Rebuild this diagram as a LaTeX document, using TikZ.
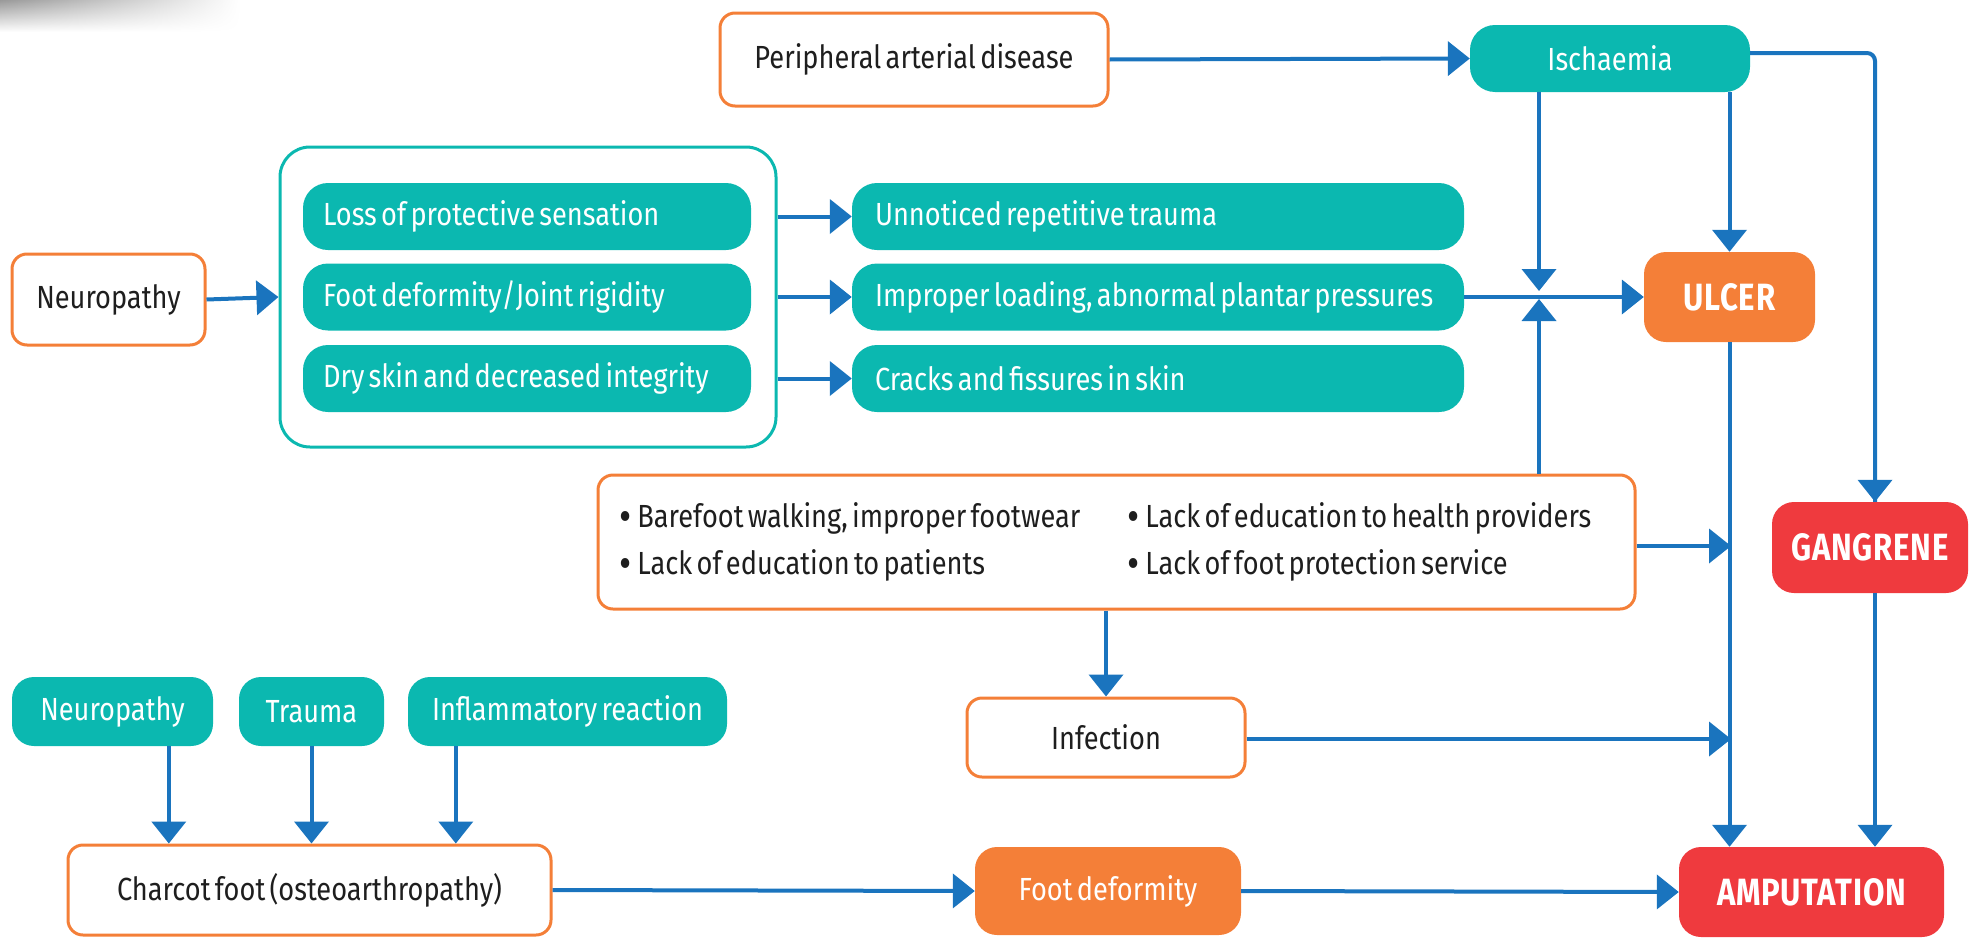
\documentclass[tikz,border=0pt]{standalone}
\usepackage{fontspec}
\setmainfont[FakeStretch=0.85,WordSpace=0.6]{Fira Sans}
\newfontfamily\hdfont[FakeStretch=0.82,LetterSpace=2]{Fira Sans}
\usetikzlibrary{arrows.meta,calc,fadings}
\definecolor{teal1}{HTML}{0BB8B0}
\definecolor{orng}{HTML}{F47F38}
\definecolor{redb}{HTML}{EF3A3E}
\definecolor{arrb}{HTML}{1A74BE}
\definecolor{txt}{HTML}{1E1E1E}
\newcommand\nf{\fontsize{32}{36}\selectfont}
\newcommand\hdf{\hdfont\fontsize{38}{42}\selectfont\bfseries}
\newcommand\bul{\raisebox{-4pt}{\fontsize{44}{44}\selectfont\textbullet}\hspace{6pt}}
\tikzset{
  obox/.style={draw=orng, line width=3pt, fill=white, rounded corners=15pt, text=txt, font=\nf, inner sep=0pt},
  tbox/.style={fill=teal1, rounded corners=22pt, text=white, font=\nf, inner sep=0pt},
  rowbox/.style={tbox, rounded corners=25pt, minimum height=67pt},
  hbox/.style={rounded corners=22pt, text=white, font=\hdf, inner sep=0pt},
  arr/.style={draw=arrb, line width=4pt, -{Triangle[length=22pt,width=34pt]}},
  ln/.style={draw=arrb, line width=4pt},
  btxt/.style={text=txt, font=\nf, anchor=west, inner sep=0pt}
}
\begin{document}
\begin{tikzpicture}[x=1pt,y=-1pt]
\useasboundingbox (0,0) rectangle (1972,937);
% shadow smear top-left
\shade[top color=black!40, bottom color=white, path fading=east] (0,0) rectangle (240,32);

% top row
\node[obox, minimum width=388pt, minimum height=93pt] (pad) at (914,59.5) {Peripheral arterial disease};
\node[tbox, minimum width=280pt, minimum height=67pt, rounded corners=25pt] (isch) at (1610,58.5) {Ischaemia};

% neuropathy block
\node[obox, minimum width=193pt, minimum height=91pt] (neu) at (108.5,299.5) {Neuropathy};
\node[draw=teal1, line width=3pt, rounded corners=30pt, minimum width=496pt, minimum height=300pt, inner sep=0pt] (grp) at (528,297) {};
\node[rowbox, minimum width=448pt] (r1) at (527,216.5) {\makebox[408pt][l]{Loss of protective sensation}};
\node[rowbox, minimum width=448pt] (r2) at (527,297) {\makebox[408pt][l]{Foot deformity/Joint rigidity}};
\node[rowbox, minimum width=448pt] (r3) at (527,378.5) {\makebox[408pt][l]{Dry skin and decreased integrity}};
\node[rowbox, minimum width=612pt] (s1) at (1158,216.5) {\makebox[566pt][l]{Unnoticed repetitive trauma}};
\node[rowbox, minimum width=612pt] (s2) at (1158,297) {\makebox[566pt][l]{Improper loading, abnormal plantar pressures}};
\node[rowbox, minimum width=612pt] (s3) at (1158,378.5) {\makebox[566pt][l]{Cracks and fissures in skin}};

% outcomes
\node[hbox, fill=orng, minimum width=171pt, minimum height=90pt] (ulcer) at (1729.5,297) {ULCER};
\node[hbox, fill=redb, minimum width=196pt, minimum height=91pt] (gang) at (1870,547.5) {GANGRENE};
\node[hbox, fill=redb, minimum width=265pt, minimum height=90pt] (amp) at (1811.5,892) {AMPUTATION};

% factors box
\node[obox, minimum width=1037pt, minimum height=134pt] (fac) at (1116.5,542) {};
\node[btxt] (b1) at (619,518) {\bul Barefoot walking, improper footwear};
\node[btxt] (b2) at (619,565) {\bul Lack of education to patients};
\node[btxt] (b3) at (1127,518) {\bul Lack of education to health providers};
\node[btxt] (b4) at (1127,565) {\bul Lack of foot protection service};

\node[obox, minimum width=278pt, minimum height=79pt] (inf) at (1106,737.5) {Infection};

% Charcot
\node[tbox, minimum width=201pt, minimum height=69pt] (n2) at (112.5,711.5) {Neuropathy};
\node[tbox, minimum width=145pt, minimum height=69pt] (tr) at (311.5,711.5) {Trauma};
\node[tbox, minimum width=319pt, minimum height=69pt] (infl) at (567.5,711.5) {Inflammatory reaction};
\node[obox, minimum width=483pt, minimum height=90pt] (ch) at (309.5,890) {Charcot foot (osteoarthropathy)};
\node[tbox, fill=orng, minimum width=266pt, minimum height=88pt] (fd) at (1108,891) {Foot deformity};

% helper coordinates
\coordinate (cx) at (1539,295);
\coordinate (gx) at (1875,53);
\coordinate (j1) at (1731,546);
\coordinate (j2) at (1731,739);
\coordinate (a1) at ($(n2.south west)+(157,0)$);
\coordinate (a3) at ($(infl.south west)+(48,0)$);

% connectors
\draw[arr] (pad.east) -- (isch.west);
\draw[arr] (neu.east) -- (grp.west);
\draw[arr] (grp.east |- r1) -- (s1.west);
\draw[arr] (grp.east |- r2) -- (s2.west);
\draw[arr] (grp.east |- r3) -- (s3.west);
\draw[arr] (s2.east) -- (ulcer.west);
\draw[arr] (isch.south -| cx) -- ($(cx)+(0,-4)$);
\draw[arr] (fac.north -| cx) -- ($(cx)+(0,4)$);
\draw[arr] (isch.south -| ulcer.north) -- (ulcer.north);
\draw[ln, rounded corners=8pt] (isch.east |- gx) -- (gx) -- (gx |- gang.north);
\draw[arr] ($(gx |- gang.north)+(0,-30)$) -- (gx |- gang.north);
\draw[arr] (ulcer.south) -- (ulcer.south |- amp.north);
\draw[arr] (gang.south -| gx) -- (gx |- amp.north);
\draw[arr] (fac.east |- j1) -- (j1);
\draw[arr] (fac.south -| inf.north) -- (inf.north);
\draw[arr] (inf.east |- j2) -- (j2);
\draw[arr] (a1) -- (a1 |- ch.north);
\draw[arr] (tr.south) -- (tr.south |- ch.north);
\draw[arr] (a3) -- (a3 |- ch.north);
\draw[arr] (ch.east) -- (fd.west);
\draw[arr] (fd.east) -- (amp.west);
\end{tikzpicture}
\end{document}
